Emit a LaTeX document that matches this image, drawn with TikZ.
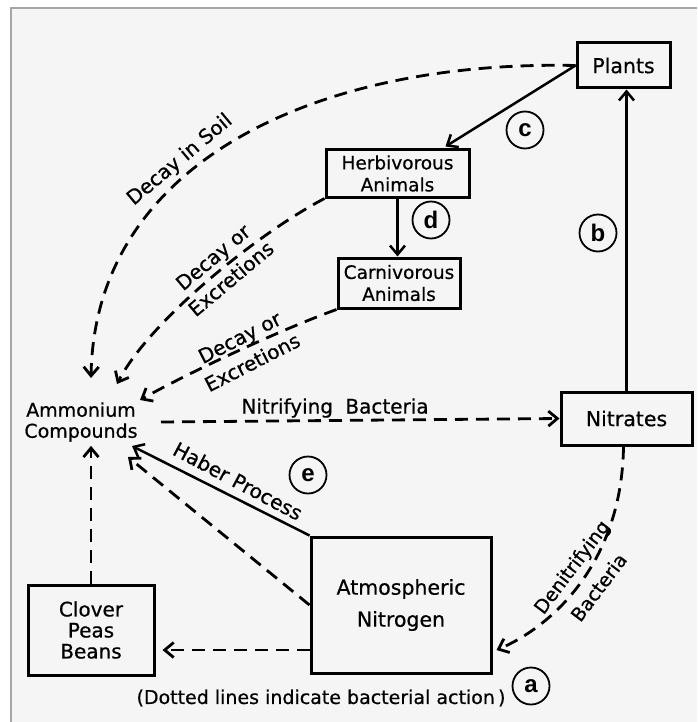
\documentclass[tikz,border=0pt]{standalone}
\usepackage{fontspec}
\setmainfont{DejaVu Sans}[FakeBold=0.6]
\newfontfamily\circfont{Liberation Sans}
\usetikzlibrary{arrows.meta, positioning, calc}

\begin{document}
\begin{tikzpicture}[x=1pt,y=-1pt]
\tikzset{
  bx/.style={rectangle,draw=black,line width=3pt,align=center,inner sep=0pt,font=\fontsize{20.5}{23}\selectfont},
  ar/.style={-{Straight Barb[length=9pt,width=15pt]},line width=2.5pt,draw=black},
  da/.style={ar,dash pattern=on 13pt off 8pt,line width=2.8pt},
  lb/.style={font=\fontsize{20}{28}\selectfont,align=center,inner sep=0pt},
  ci/.style={circle,draw=black,line width=1.8pt,minimum size=37pt,inner sep=0pt,font=\circfont\bfseries\fontsize{24}{24}\selectfont}
}
\useasboundingbox (0,0) rectangle (697,722);
\fill[black!4] (11,8) rectangle (697,722);
\draw[black!35,line width=1.5pt] (11,722) -- (11,8) -- (697,8);
% boxes
\node[bx,minimum width=93pt,minimum height=45pt] (plants) at (623.5,65.5) {Plants};
\node[bx,minimum width=143pt,minimum height=47pt,font=\fontsize{18.5}{22}\selectfont] (herb) at (397.5,173.5) {Herbivorous\\Animals};
\node[bx,minimum width=122pt,minimum height=50pt,font=\fontsize{18.5}{22}\selectfont] (carn) at (399,283) {Carnivorous\\Animals};
\node[bx,minimum width=131pt,minimum height=53pt] (nitr) at (626.5,418.5) {Nitrates};
\node[bx,minimum width=126pt,minimum height=90pt,font=\fontsize{20}{21}\selectfont] (clover) at (91,630) {Clover\\Peas\\Beans};
\node[bx,minimum width=180pt,minimum height=136pt,font=\fontsize{20.5}{32}\selectfont] (atmo) at (401,605) {Atmospheric\\Nitrogen};
\node[align=center,inner sep=4pt,font=\fontsize{19}{21}\selectfont] (amm) at (81,422) {Ammonium\\Compounds};
% connectors
\draw[ar] (plants.west) -- ($(herb.north east)+(-25,-2)$);
\draw[da] (plants.west) .. controls (320,60) and (95,160) .. ($(amm.center)+(10,-44)$);
\draw[ar] (herb.south) -- (herb.south |- carn.north);
\draw[da] (herb.south west) .. controls (260,232) and (150,320) .. ($(amm.center)+(36,-38)$);
\draw[da] (carn.south west) .. controls (280,330) and (190,372) .. ($(amm.center)+(59,-22)$);
\draw[da] ($(amm.center)+(80,0)$) -- (nitr.west);
\draw[ar] (nitr.north) -- (nitr.north |- plants.south);
\draw[da] ($(nitr.south)+(-3,0)$) .. controls (622,560) and (555,625) .. ($(atmo.east)+(4,45)$);
\draw[da] ($(atmo.west)+(0,45)$) -- ($(clover.east)+(7,20)$);
\draw[da] (clover.north) -- (clover.north |- amm.south);
\draw[ar] (atmo.north west) -- ($(amm.center)+(51,24)$);
\draw[da] (atmo.west) -- ($(amm.center)+(47,35)$);
% labels
\node[lb,rotate=40] (soil) at (180,160) {Decay in Soil};
\node[lb,rotate=40] (exc1) at (222,268) {Decay or\\Excretions};
\node[lb,rotate=27] (exc2) at (246,350) {Decay or\\Excretions};
\node[lb] (nbac) at (335,408) {Nitrifying\hspace{6pt} Bacteria};
\node[lb,rotate=-28] (haber) at (238,481) {Haber Process};
\node[lb,rotate=53,font=\fontsize{19}{34}\selectfont] (dbac) at (585,577) {Denitrifying\\Bacteria};
\node[font=\fontsize{19}{20}\selectfont] (note) at (321,698) {(Dotted lines indicate bacterial action\,)};
% letters
\node[ci] (la) at (531,686) {a};
\node[ci] (lbb) at (598,233) {b};
\node[ci] (lc) at (525,130) {c};
\node[ci] (ld) at (431,220) {d};
\node[ci] (le) at (308,475) {e};
\end{tikzpicture}
\end{document}
